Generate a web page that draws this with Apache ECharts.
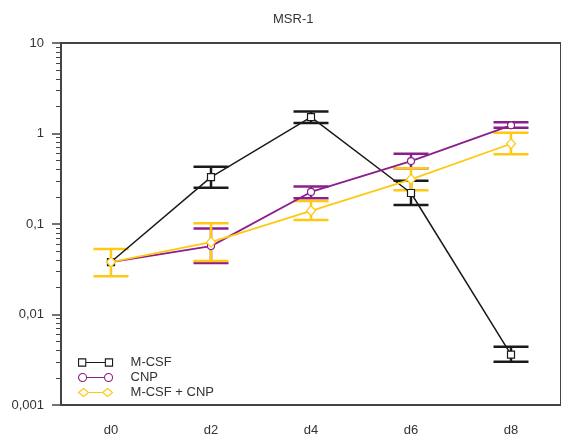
<!DOCTYPE html>
<html>
<head>
<meta charset="utf-8">
<script src="https://cdn.jsdelivr.net/npm/echarts@6/dist/echarts.min.js"></script>
<style>
  html, body { margin: 0; padding: 0; background: #fff; }
  #chart { width: 561px; height: 437px; }
</style>
</head>
<body>
<div id="chart"></div>
<script>
// Time points
const categories = ['d0', 'd2', 'd4', 'd6', 'd8'];

// M-CSF: mean with lower / upper error bounds
const mcsfMean = [0.038, 0.33, 1.52, 0.22, 0.0036];
const mcsfLow  = [null, 0.252, 1.31, 0.162, 0.0030];
const mcsfHigh = [null, 0.43, 1.75, 0.30, 0.0044];

// CNP
const cnpMean = [0.038, 0.057, 0.226, 0.496, 1.23];
const cnpLow  = [null, 0.037, 0.193, 0.412, 1.16];
const cnpHigh = [null, 0.089, 0.26, 0.598, 1.33];

// M-CSF + CNP
const comboMean = [0.038, 0.063, 0.14, 0.312, 0.77];
const comboLow  = [0.0264, 0.039, 0.111, 0.236, 0.588];
const comboHigh = [0.0531, 0.102, 0.180, 0.412, 1.02];

// Y axis decades and their printed labels (decimal comma)
const yTickValues = [0.001, 0.01, 0.1, 1, 10];
const yTickLabels = ['0,001', '0,01', '0,1', '1', '10'];
// Intermediate log ticks 2..9 within each decade
const yMinorTicks = [];
for (let d = 0; d < yTickValues.length - 1; d++) {
  for (let k = 2; k <= 9; k++) yMinorTicks.push(+(k * yTickValues[d]).toPrecision(3));
}

const seriesNames = ['M-CSF', 'CNP', 'M-CSF + CNP'];
const colors = ['#1a1a1a', '#8c1d8c', '#ffc812'];

const axisColor = '#444';
const textColor = '#333';
const font = 'Liberation Sans, Arial, sans-serif';

// Legend icons: a marker at each end joined by a line
const legendIcons = [
  'path://M0.5,0.5 H7.5 V7.5 H0.5 Z M7.5,4 H26.5 M26.5,0.5 H33.5 V7.5 H26.5 Z',
  'path://M0,4 A4,4 0 1,1 8,4 A4,4 0 1,1 0,4 Z M8,4 H26 M26,4 A4,4 0 1,1 34,4 A4,4 0 1,1 26,4 Z',
  'path://M0,4 L5,0 L10,4 L5,8 Z M10,4 H24 M24,4 L29,0 L34,4 L29,8 Z'
];

function errorData(low, high) {
  const out = [];
  categories.forEach((c, i) => {
    if (low[i] != null && high[i] != null) out.push([i, low[i], high[i]]);
  });
  return out;
}

function errorBarRenderer(color) {
  return function (params, api) {
    const x = api.value(0);
    const top = api.coord([x, api.value(2)]);
    const bot = api.coord([x, api.value(1)]);
    const half = 17.5;
    const style = { stroke: color, lineWidth: 2.5, fill: null };
    return {
      type: 'group',
      children: [
        { type: 'line', shape: { x1: top[0], y1: top[1], x2: bot[0], y2: bot[1] }, style: style },
        { type: 'line', shape: { x1: top[0] - half, y1: top[1], x2: top[0] + half, y2: top[1] }, style: style },
        { type: 'line', shape: { x1: bot[0] - half, y1: bot[1], x2: bot[0] + half, y2: bot[1] }, style: style }
      ]
    };
  };
}

const means = [mcsfMean, cnpMean, comboMean];
const lows = [mcsfLow, cnpLow, comboLow];
const highs = [mcsfHigh, cnpHigh, comboHigh];
const symbols = ['rect', 'circle', 'diamond'];
const symbolSizes = [7, 7, [9, 10]];
const lineWidths = [1.5, 1.8, 1.8];

const series = [];
// Error bars first so markers sit on top of them
seriesNames.forEach((name, s) => {
  series.push({
    type: 'custom',
    name: name + ' err',
    renderItem: errorBarRenderer(colors[s]),
    data: errorData(lows[s], highs[s]),
    encode: { x: 0, y: [1, 2] },
    silent: true,
    z: 2
  });
});
seriesNames.forEach((name, s) => {
  series.push({
    type: 'line',
    name: name,
    data: means[s],
    symbol: symbols[s],
    symbolSize: symbolSizes[s],
    showAllSymbol: true,
    color: colors[s],
    lineStyle: { color: colors[s], width: lineWidths[s] },
    itemStyle: { color: '#fff', borderColor: colors[s], borderWidth: 1.2 },
    emphasis: { disabled: true },
    z: 3
  });
});

const chart = echarts.init(document.getElementById('chart'), null, { renderer: 'canvas' });
chart.setOption({
  animation: false,
  backgroundColor: '#fff',
  title: {
    text: 'MSR-1',
    left: 268,
    top: 8,
    textStyle: { fontFamily: font, fontSize: 13, fontWeight: 'normal', color: textColor }
  },
  legend: {
    orient: 'vertical',
    left: 73,
    top: 351,
    itemWidth: 34,
    itemHeight: 8,
    itemGap: 2,
    selectedMode: false,
    textStyle: { fontFamily: font, fontSize: 13, color: textColor, lineHeight: 11, padding: [0, 0, 0, 13] },
    data: seriesNames.map((n, s) => ({
      name: n,
      icon: legendIcons[s],
      itemStyle: { color: '#fff', borderColor: colors[s], borderWidth: 1.1 }
    }))
  },
  grid: {
    left: 61,
    top: 43,
    bottom: 30,
    right: -7.5,
    show: true,
    borderColor: axisColor,
    borderWidth: 2,
    containLabel: false
  },
  xAxis: {
    type: 'category',
    data: categories,
    boundaryGap: true,
    axisLine: { lineStyle: { color: axisColor, width: 2 } },
    axisTick: { show: false },
    axisLabel: { fontFamily: font, fontSize: 13, color: textColor, margin: 19 },
    splitLine: { show: false }
  },
  yAxis: [
    {
      type: 'log',
      logBase: 10,
      min: yTickValues[0],
      max: yTickValues[yTickValues.length - 1],
      position: 'left',
      axisLine: { show: true, lineStyle: { color: axisColor, width: 2 } },
      axisTick: { show: true, length: 9, lineStyle: { color: axisColor, width: 1.5 } },
      axisLabel: {
        fontFamily: font, fontSize: 13, color: textColor, margin: 17,
        formatter: function (v) {
          let best = 0;
          yTickValues.forEach((t, i) => {
            if (Math.abs(Math.log10(t) - Math.log10(v)) < Math.abs(Math.log10(yTickValues[best]) - Math.log10(v))) best = i;
          });
          return yTickLabels[best];
        }
      },
      splitLine: { show: false }
    },
    {
      type: 'log',
      logBase: 10,
      min: yTickValues[0],
      max: yTickValues[yTickValues.length - 1],
      position: 'left',
      axisLine: { show: false },
      axisTick: { show: true, length: 5, customValues: yMinorTicks, lineStyle: { color: axisColor, width: 1 } },
      axisLabel: { show: false },
      splitLine: { show: false }
    }
  ],
  series: series
});
</script>
</body>
</html>
